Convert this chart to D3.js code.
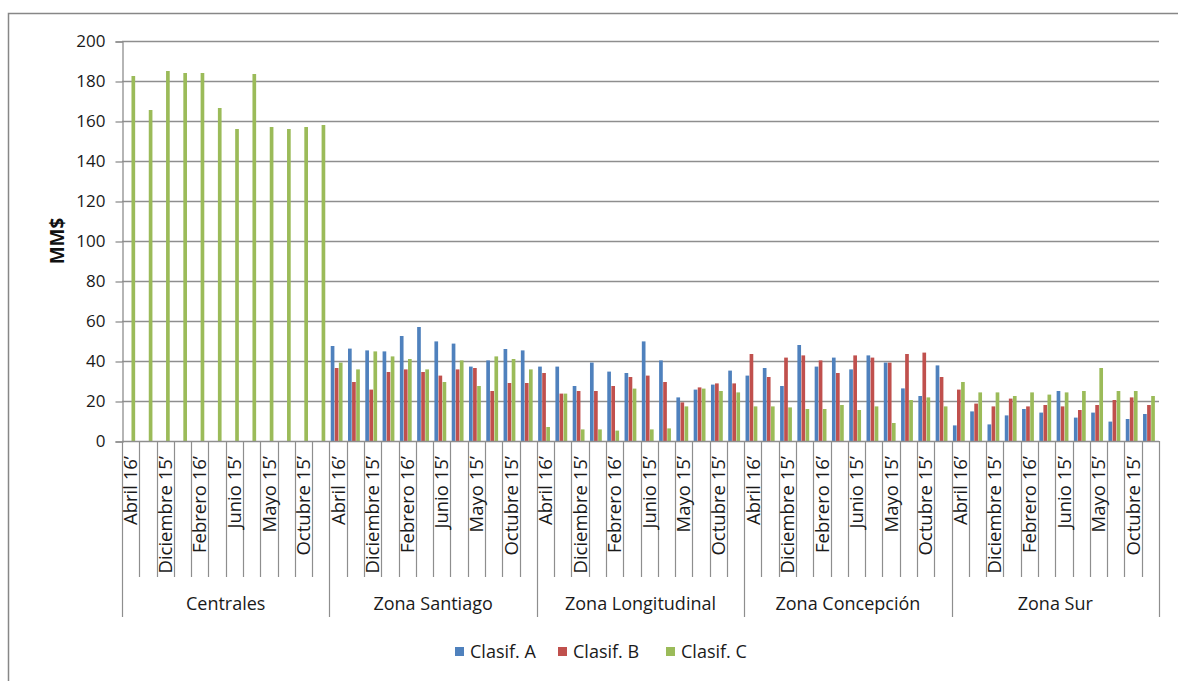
<!DOCTYPE html>
<html>
<head>
<meta charset="utf-8">
<script src="https://d3js.org/d3.v7.min.js"></script>
<style>
  html, body { margin: 0; padding: 0; background: #fff; }
  svg { display: block; font-family: "Open Sans", "Lato", sans-serif; }
</style>
</head>
<body>
<svg id="chart" width="1178" height="681"></svg>
<script>
// Zones (outer category level) and months (inner category level)
const zones = ["Centrales", "Zona Santiago", "Zona Longitudinal", "Zona Concepción", "Zona Sur"];
const months = ["Abril 16’", "Agosto 15’", "Diciembre 15’", "Enero 16’", "Febrero 16’", "Julio 15’",
                "Junio 15’", "Marzo 16’", "Mayo 15’", "Noviembre 15’", "Octubre 15’", "Septiembre 15’"];
const seriesNames = ["Clasif. A", "Clasif. B", "Clasif. C"];
const seriesColors = ["#4F81BD", "#C0504D", "#9BBB59"];
const yTicks = [0, 20, 40, 60, 80, 100, 120, 140, 160, 180, 200];

// MM$ per zone, 12 months each (same order as `months`)
const clasifA = [
  0, 0, 0, 0, 0, 0, 0, 0, 0, 0, 0, 0,
  47.5, 46.2, 45.3, 44.8, 52.5, 57.0, 49.8, 48.7, 37.2, 40.3, 46.0, 45.3,
  37.2, 37.2, 27.5, 39.2, 34.7, 34.0, 49.8, 40.3, 21.8, 25.7, 28.2, 35.2,
  32.7, 36.5, 27.5, 48.0, 37.2, 41.7, 35.8, 42.8, 39.2, 26.3, 22.5, 37.8,
  7.8, 14.8, 8.3, 12.8, 16.0, 14.2, 25.0, 11.7, 14.2, 9.7, 11.0, 13.5
];
const clasifB = [
  0, 0, 0, 0, 0, 0, 0, 0, 0, 0, 0, 0,
  36.5, 29.5, 25.7, 34.5, 35.8, 34.5, 32.7, 35.8, 36.5, 25.0, 29.0, 29.0,
  34.0, 23.7, 25.0, 25.0, 27.5, 32.0, 32.7, 29.5, 19.3, 26.8, 28.8, 28.8,
  43.5, 32.0, 41.7, 42.8, 40.3, 34.0, 42.8, 41.7, 39.2, 43.5, 44.2, 32.0,
  25.7, 18.7, 17.3, 21.2, 17.3, 18.0, 17.3, 15.5, 18.0, 20.5, 21.8, 18.0
];
const clasifC = [
  182.5, 165.5, 185.0, 184.0, 184.0, 166.5, 156.0, 183.5, 157.0, 156.0, 157.0, 158.0,
  39.2, 35.8, 44.8, 42.3, 41.0, 35.8, 29.5, 40.3, 27.5, 42.3, 41.0, 35.8,
  7.0, 23.7, 5.8, 5.8, 5.2, 26.2, 5.8, 6.3, 17.3, 26.2, 25.0, 24.3,
  17.3, 17.3, 16.8, 16.0, 16.0, 18.0, 15.5, 17.3, 9.0, 20.5, 21.8, 17.3,
  29.5, 24.3, 24.3, 22.5, 24.3, 23.2, 24.3, 25.0, 36.5, 25.0, 25.0, 22.5
];
const seriesValues = [clasifA, clasifB, clasifC];

// Flatten into rows: one per zone/month/series
const rows = [];
zones.forEach((z, zi) => months.forEach((m, mi) => seriesNames.forEach((s, si) => {
  rows.push({ zone: z, month: m, series: s, value: seriesValues[si][zi * months.length + mi] });
})));

const svg = d3.select("#chart");
const plot = { left: 122, right: 1159, top: 41, bottom: 441 };
const textColor = "#1a1a1a";

// Outer frame of the chart area
svg.append("rect")
  .attr("x", 8.5).attr("y", 13.5).attr("width", 1200).attr("height", 700)
  .attr("fill", "none").attr("stroke", "#878787").attr("stroke-width", 1.5);

const y = d3.scaleLinear().domain([0, 200]).range([plot.bottom, plot.top]);
const x0 = d3.scaleBand().domain(zones).range([plot.left, plot.right]);
const x1 = d3.scaleBand().domain(months).range([0, x0.bandwidth()]);
const x2 = d3.scaleBand().domain(seriesNames).range([0, x1.bandwidth()])
  .paddingInner(0).paddingOuter(0.62);
const color = d3.scaleOrdinal().domain(seriesNames).range(seriesColors);

const gridColor = "#8E8E8E";

// Horizontal gridlines
svg.append("g").selectAll("line").data(yTicks.filter(t => t > 0)).join("line")
  .attr("x1", plot.left).attr("x2", plot.right)
  .attr("y1", d => Math.round(y(d)) + 0.5).attr("y2", d => Math.round(y(d)) + 0.5)
  .attr("stroke", gridColor).attr("stroke-width", 1.3);

// Y axis
const yAxis = svg.append("g")
  .attr("transform", `translate(${plot.left + 0.5},0.5)`)
  .call(d3.axisLeft(y).tickValues(yTicks).tickSize(7).tickPadding(10));
yAxis.select(".domain").attr("stroke", gridColor).attr("stroke-width", 1.3);
yAxis.selectAll(".tick line").attr("stroke", gridColor).attr("stroke-width", 1.3);
yAxis.selectAll(".tick text")
  .attr("fill", textColor).style("font-size", "17px").style("font-family", "'Open Sans', sans-serif");

// Y axis title
svg.append("text")
  .attr("transform", `translate(64,${(plot.top + plot.bottom) / 2}) rotate(-90)`)
  .attr("text-anchor", "middle")
  .style("font-size", "19px").style("font-weight", "bold").attr("fill", "#111")
  .text("MM$");

// Bars
svg.append("g").selectAll("rect").data(rows.filter(d => d.value > 0)).join("rect")
  .attr("x", d => x0(d.zone) + x1(d.month) + x2(d.series) - 1.2)
  .attr("width", x2.bandwidth() - 0.4)
  .attr("y", d => y(d.value))
  .attr("height", d => plot.bottom - y(d.value))
  .attr("fill", d => color(d.series));

// X axis baseline
svg.append("line")
  .attr("x1", plot.left).attr("x2", plot.right)
  .attr("y1", plot.bottom + 0.5).attr("y2", plot.bottom + 0.5)
  .attr("stroke", gridColor).attr("stroke-width", 1.3);

// Month dividers (inner axis)
const monthEdges = [];
zones.forEach(z => months.forEach((m, i) => { if (i > 0) monthEdges.push(x0(z) + x1(m)); }));
svg.append("g").selectAll("line").data(monthEdges).join("line")
  .attr("x1", d => Math.round(d) + 0.5).attr("x2", d => Math.round(d) + 0.5)
  .attr("y1", plot.bottom).attr("y2", 577)
  .attr("stroke", gridColor).attr("stroke-width", 1.2);

// Zone dividers (outer axis)
const zoneEdges = zones.map(z => x0(z)).concat([plot.right]);
svg.append("g").selectAll("line").data(zoneEdges).join("line")
  .attr("x1", d => Math.round(d) + 0.5).attr("x2", d => Math.round(d) + 0.5)
  .attr("y1", plot.bottom).attr("y2", 617)
  .attr("stroke", gridColor).attr("stroke-width", 1.2);

// Month labels (every second month is shown)
const monthLabels = [];
zones.forEach(z => months.forEach((m, i) => { if (i % 2 === 0) monthLabels.push({ zone: z, month: m }); }));
svg.append("g").selectAll("text").data(monthLabels).join("text")
  .attr("transform", d => `translate(${x0(d.zone) + x1(d.month) + x1.bandwidth() / 2},456) rotate(-90)`)
  .attr("text-anchor", "end").attr("dy", "0.36em")
  .style("font-size", "18.5px").attr("fill", textColor)
  .text(d => d.month);

// Zone labels
svg.append("g").selectAll("text").data(zones).join("text")
  .attr("x", d => x0(d) + x0.bandwidth() / 2).attr("y", 604)
  .attr("text-anchor", "middle").attr("dy", "0.36em")
  .style("font-size", "18px").attr("fill", textColor)
  .text(d => d);

// Legend
const legendX = [455, 558, 666];
const legend = svg.append("g").selectAll("g").data(seriesNames).join("g")
  .attr("transform", (d, i) => `translate(${legendX[i]},647)`);
legend.append("rect").attr("width", 9).attr("height", 9).attr("fill", d => color(d));
legend.append("text").attr("x", 15).attr("y", 4.5).attr("dy", "0.36em")
  .style("font-size", "18px").attr("fill", textColor).text(d => d);
</script>
</body>
</html>
